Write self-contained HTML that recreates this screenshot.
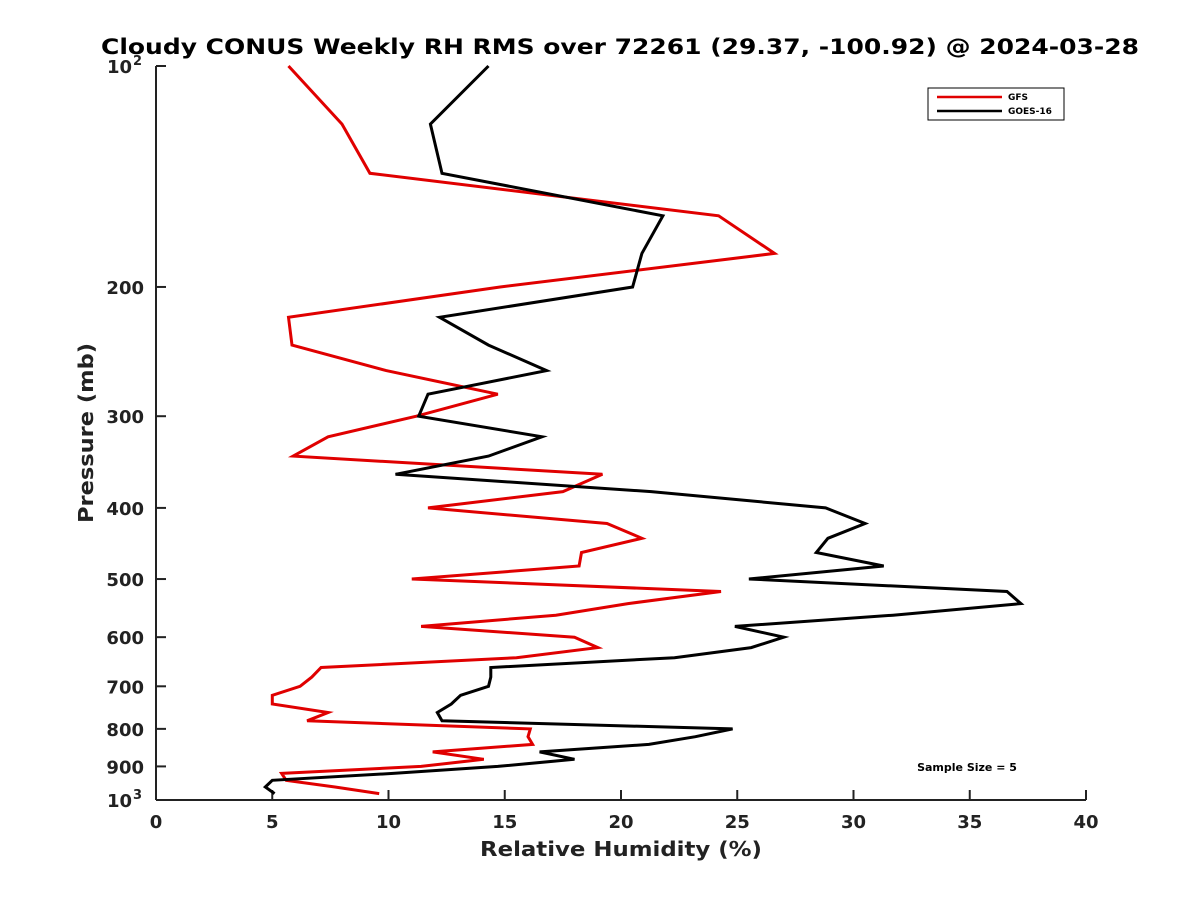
<!DOCTYPE html>
<html><head><meta charset="utf-8"><style>
body{margin:0;background:#fff;}
svg text{font-family:"DejaVu Sans","Liberation Sans",sans-serif;font-weight:bold;fill:#222;}
</style></head><body>
<svg id="chart" width="1200" height="900" xmlns="http://www.w3.org/2000/svg">
<rect width="1200" height="900" fill="#fff"/>
<text x="620" y="54" font-size="21" text-anchor="middle" textLength="1038" lengthAdjust="spacingAndGlyphs" style="fill:#000">Cloudy CONUS Weekly RH RMS over 72261 (29.37, -100.92) @ 2024-03-28</text>
<g id="axes"></g>
<g id="series"></g>
<g>
<rect x="928" y="88" width="136" height="32" fill="#fff" stroke="#000" stroke-width="1"/>
<line x1="937" y1="97" x2="1002" y2="97" stroke="#e00000" stroke-width="2.5"/>
<text x="1008" y="100" font-size="9" style="fill:#000">GFS</text>
<line x1="937" y1="111" x2="1002" y2="111" stroke="#000" stroke-width="2.5"/>
<text x="1008" y="114" font-size="9" style="fill:#000">GOES-16</text>
</g>
<text x="967" y="771" font-size="11" text-anchor="middle" style="fill:#000">Sample Size = 5</text>
<text x="621" y="856" font-size="20" text-anchor="middle" textLength="282" lengthAdjust="spacingAndGlyphs">Relative Humidity (%)</text>
<text transform="translate(93,433) rotate(-90)" font-size="20" text-anchor="middle" textLength="180" lengthAdjust="spacingAndGlyphs">Pressure (mb)</text>
</svg>
<script>
const gfsPressure=[100,120,140,160,180,200,220,240,260,280,300,320,340,360,380,400,420,440,460,480,500,520,540,560,580,600,620,640,660,680,700,720,740,760,780,800,820,840,860,880,900,920,940,960,980];
const gfsValues=[5.7,8.0,9.2,24.2,26.6,14.8,5.7,5.85,9.9,14.7,11.2,7.4,5.9,19.2,17.5,11.7,19.4,20.9,18.3,18.2,11.0,24.3,20.3,17.2,11.4,18.0,19.0,15.5,7.1,6.7,6.2,5.0,5.0,7.4,6.5,16.1,16.0,16.2,11.9,14.1,11.4,5.4,5.6,7.7,9.6];
const goesPressure=[100,120,140,160,180,200,220,240,260,280,300,320,340,360,380,400,420,440,460,480,500,520,540,560,580,600,620,640,660,680,700,720,740,760,780,800,820,840,860,880,900,920,940,960,980];
const goesValues=[14.3,11.8,12.3,21.8,20.9,20.5,12.2,14.3,16.8,11.7,11.3,16.6,14.3,10.3,21.3,28.8,30.5,28.9,28.4,31.3,25.5,36.6,37.2,31.7,24.9,27.0,25.6,22.3,14.4,14.4,14.3,13.1,12.7,12.1,12.3,24.8,23.2,21.2,16.5,18.0,14.7,10.2,5.0,4.7,5.1];
const xTicks=[0,5,10,15,20,25,30,35,40];
const yTicks=[100,200,300,400,500,600,700,800,900,1000];
const yTickLabels=["10","200","300","400","500","600","700","800","900","10"];
const yTickExps=["2","","","","","","","","","3"];
const X0=156,X1=1086,Y0=66,Y1=800;
function xs(v){return X0+(v-0)/(40-0)*(X1-X0);}
function ys(p){return Y0+(Math.log10(p)-2)*(Y1-Y0);}
const NS="http://www.w3.org/2000/svg";
const axes=document.getElementById('axes');
function mk(tag,attrs,parent){const e=document.createElementNS(NS,tag);for(const k in attrs)e.setAttribute(k,attrs[k]);parent.appendChild(e);return e;}
const ax=mk('line',{x1:X0,y1:Y1,x2:X1,y2:Y1,stroke:'#222','stroke-width':2},axes);


const ay=mk('line',{x1:X0,y1:Y0,x2:X0,y2:Y1,stroke:'#222','stroke-width':2},axes);


xTicks.forEach(t=>{
  const x=xs(t);
  mk('line',{x1:x,y1:Y1,x2:x,y2:Y1-10,stroke:'#222','stroke-width':2},axes);
  const tx=mk('text',{x:x,y:Y1+28,'font-size':18,'text-anchor':'middle'},axes);
  tx.textContent=t;
  
  
});
yTicks.forEach((t,i)=>{
  const y=ys(t);
  mk('line',{x1:X0,y1:y,x2:X0+10,y2:y,stroke:'#222','stroke-width':2},axes);
  const exp=yTickExps[i];
  const tx=mk('text',{x:exp?X0-24:X0-12,y:y+7,'font-size':18,'text-anchor':'end'},axes);
  tx.textContent=yTickLabels[i];
  
  
  if(exp){
    const sx=mk('text',{x:X0-14,y:y-1,'font-size':13,'text-anchor':'end'},axes);
    sx.textContent=exp;
    
    
  }
});
const series=document.getElementById('series');
function line(vals,pres,color,name){
  const pts=vals.map((v,i)=>xs(v).toFixed(1)+','+ys(pres[i]).toFixed(1)).join(' ');
  const pl=mk('polyline',{points:pts,fill:'none',stroke:color,'stroke-width':3,'stroke-linejoin':'miter'},series);
  
  
}
line(gfsValues,gfsPressure,'#e00000','gfs-line');
line(goesValues,goesPressure,'#000','goes16-line');
</script>
</body></html>
